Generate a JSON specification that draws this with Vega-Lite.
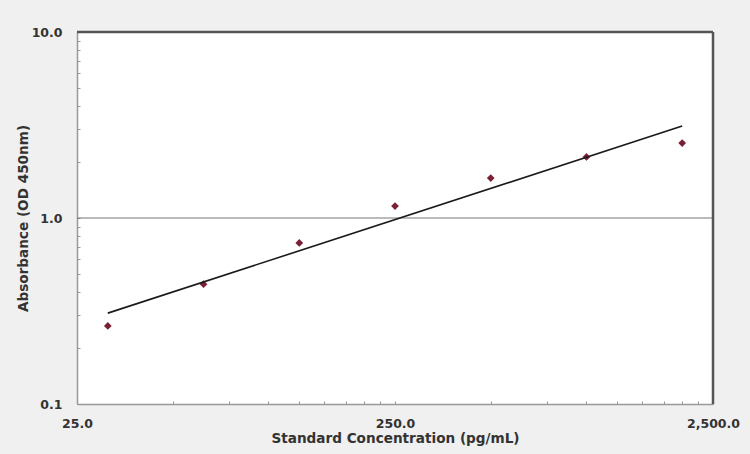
{
  "$schema": "https://vega.github.io/schema/vega-lite/v6.json",
  "width": 636,
  "height": 372,
  "autosize": {"type": "none"},
  "padding": {"left": 77, "top": 32, "right": 37, "bottom": 50},
  "background": "#f0f0f0",
  "config": {
    "view": {"fill": "white", "stroke": null},
    "font": "DejaVu Sans"
  },
  "datasets": {
    "points": [
      {"conc": 31.25, "od": 0.263},
      {"conc": 62.5, "od": 0.441},
      {"conc": 125, "od": 0.734},
      {"conc": 250, "od": 1.16},
      {"conc": 500, "od": 1.64},
      {"conc": 1000, "od": 2.13},
      {"conc": 2000, "od": 2.53}
    ],
    "fit": [
      {"conc": 31.25, "od": 0.308},
      {"conc": 2000, "od": 3.12}
    ],
    "one": [{"k": 1}]
  },
  "layer": [
    {
      "data": {"name": "one"},
      "mark": {"type": "rule", "color": "#777", "strokeWidth": 1},
      "encoding": {"y": {"datum": 1, "type": "quantitative", "scale": {"type": "log", "domain": [0.1, 10], "nice": false}}}
    },
    {
      "data": {"name": "points"},
      "mark": {"type": "point", "shape": "diamond", "filled": true, "color": "#7a1f35", "size": 60, "opacity": 1},
      "encoding": {
        "x": {
          "field": "conc", "type": "quantitative",
          "scale": {"type": "log", "domain": [25, 2500], "nice": false},
          "axis": {
            "title": "Standard Concentration (pg/mL)",
            "values": [25, 50, 75, 100, 125, 150, 175, 200, 225, 250, 500, 750, 1000, 1250, 1500, 1750, 2000, 2250, 2500],
            "labelExpr": "indexof([25, 250, 2500], datum.value) >= 0 ? format(datum.value, ',.1f') : ''",
            "grid": false,
            "tickSize": -3,
            "tickColor": "#999",
            "domainColor": "#999",
            "domainWidth": 1.5,
            "labelFont": "DejaVu Sans",
            "labelFontWeight": "bold",
            "labelFontSize": 12.5,
            "labelColor": "#333",
            "labelPadding": 16,
            "labelOverlap": false,
            "labelFlush": false,
            "titleFont": "DejaVu Sans",
            "titleFontWeight": "bold",
            "titleFontSize": 13.6,
            "titleColor": "#333",
            "titlePadding": 2
          }
        },
        "y": {
          "field": "od", "type": "quantitative",
          "scale": {"type": "log", "domain": [0.1, 10], "nice": false},
          "axis": {
            "title": "Absorbance (OD 450nm)",
            "values": [0.1, 0.2, 0.3, 0.4, 0.5, 0.6, 0.7, 0.8, 0.9, 1, 2, 3, 4, 5, 6, 7, 8, 9, 10],
            "labelExpr": "indexof([0.1, 1, 10], datum.value) >= 0 ? format(datum.value, '.1f') : ''",
            "grid": false,
            "tickSize": -3,
            "tickColor": "#999",
            "domainColor": "#999",
            "domainWidth": 1.5,
            "labelFont": "DejaVu Sans",
            "labelFontWeight": "bold",
            "labelFontSize": 12.5,
            "labelColor": "#333",
            "labelPadding": 18,
            "labelOverlap": false,
            "labelFlush": false,
            "titleFont": "DejaVu Sans",
            "titleFontWeight": "bold",
            "titleFontSize": 13.6,
            "titleColor": "#333",
            "titlePadding": 1
          }
        }
      }
    },
    {
      "data": {"name": "fit"},
      "mark": {"type": "line", "color": "#1a1a1a", "strokeWidth": 1.6},
      "encoding": {
        "x": {"field": "conc", "type": "quantitative"},
        "y": {"field": "od", "type": "quantitative"}
      }
    },
    {
      "data": {"name": "one"},
      "mark": {"type": "rule", "color": "#555", "strokeWidth": 2.5},
      "encoding": {"y": {"datum": 10, "type": "quantitative"}}
    },
    {
      "data": {"name": "one"},
      "mark": {"type": "rule", "color": "#555", "strokeWidth": 2.5},
      "encoding": {"x": {"datum": 2500, "type": "quantitative"}}
    }
  ]
}
